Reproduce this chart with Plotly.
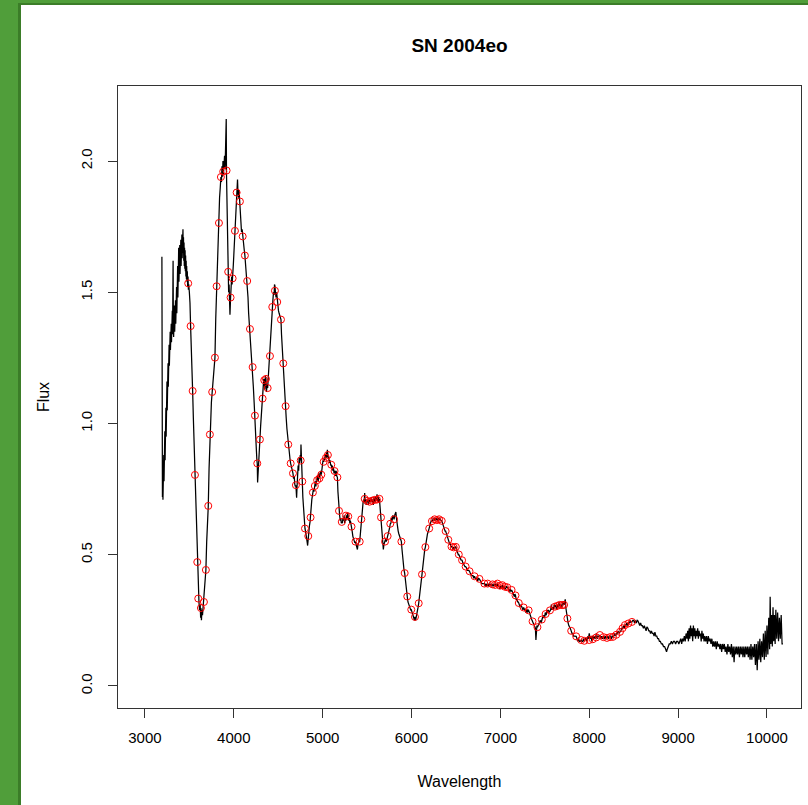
import plotly.graph_objects as go

# ---------------- data ----------------
# noisy ultraviolet rise, (wavelength, flux) pairs
spec_uv = [
(3191,1.635),(3192,0.90),(3194,0.76),(3197,0.72),(3200,0.80),(3203,0.71),(3206,0.84),(3209,0.74),
(3212,0.88),(3215,0.78),(3218,0.93),(3221,0.82),(3224,0.97),(3227,0.86),(3230,1.02),(3233,0.90),
(3236,1.06),(3239,0.95),(3242,1.12),(3245,1.00),(3248,1.16),(3251,1.05),(3254,1.20),(3257,1.10),
(3260,1.23),(3263,1.14),(3266,1.27),(3269,1.19),(3272,1.30),(3275,1.22),(3278,1.32),(3281,1.25),
(3284,1.35),(3287,1.28),(3290,1.37),(3293,1.30),(3296,1.38),(3299,1.31),(3302,1.40),(3305,1.32),
(3308,1.43),(3311,1.34),(3314,1.50),(3317,1.62),(3320,1.38),(3323,1.33),(3326,1.42),(3329,1.34),
(3332,1.45),(3335,1.35),(3338,1.44),(3341,1.36),(3344,1.47),(3347,1.38),(3350,1.48),(3353,1.39),
(3356,1.52),(3359,1.42),(3362,1.55),(3365,1.45),(3368,1.60),(3371,1.48),(3374,1.63),(3377,1.50),
(3380,1.67),(3383,1.54),(3386,1.64),(3389,1.55),(3392,1.68),(3395,1.57),(3398,1.66),(3401,1.58),
(3404,1.70),(3407,1.60),(3410,1.69),(3413,1.62),(3416,1.72),(3419,1.63),(3422,1.70),(3425,1.64),
(3428,1.74),(3431,1.65),(3434,1.71),(3437,1.62),(3440,1.69),(3443,1.60),(3446,1.67),(3449,1.59),
(3452,1.66),(3455,1.58),(3458,1.64),(3461,1.56),(3464,1.62),(3467,1.55),(3470,1.60),(3473,1.54),
(3477,1.58),(3481,1.52),(3485,1.56),(3489,1.51),(3493,1.53),
]

line_wl = [
3500,3507,3514,3522,3530,3537,3545,3552,3563,3570,3578,3589,3595,3600,3608,3615,3622,3627,3630,3636,
3642,3648,3656,3664,3672,3679,3686,3695,3704,3713,3722,3731,3740,3748,3757,3766,3775,3788,3797,3807,
3816,3824,3833,3840,3848,3855,3861,3867,3873,3878,3884,3890,3896,3902,3907,3911,3915,3918,3922,3927,
3933,3937,3942,3947,3952,3957,3964,3970,3976,3981,3987,3994,4000,4006,4013,4019,4025,4032,4037,4042,
4047,4053,4059,4064,4069,4075,4081,4087,4094,4100,4106,4112,4118,4125,4131,4138,4144,4151,4160,4167,
4175,4182,4190,4198,4205,4212,4220,4229,4238,4246,4254,4260,4264,4268,4274,4282,4288,4294,4302,4310,
4317,4324,4331,4337,4343,4349,4355,4362,4368,4374,4381,4388,4394,4400,4407,4414,4420,4427,4433,4440,
4447,4454,4458,4463,4469,4475,4482,4489,4496,4503,4510,4517,4524,4531,4537,4544,4550,4557,4564,4570,
4577,4583,4590,4598,4606,4613,4620,4627,4634,4640,4647,4653,4660,4666,4673,4680,4686,4692,4699,4703,
4707,4712,4718,4724,4730,4736,4742,4748,4753,4756,4760,4766,4771,4777,4783,4789,4795,4801,4807,4813,
4819,4825,4831,4838,4844,4851,4858,4864,4871,4878,4884,4890,4896,4902,4908,4912,4918,4924,4931,4938,
4944,4950,4957,4964,4970,4977,4985,4991,4998,5004,5011,5018,5024,5030,5037,5043,5048,5053,5059,5065,
5072,5078,5084,5090,5097,5103,5109,5115,5122,5128,5134,5140,5146,5152,5159,5166,5172,5178,5184,5191,
5198,5205,5210,5215,5222,5228,5235,5242,5248,5255,5262,5268,5275,5281,5288,5294,5300,5306,5312,5318,
5325,5332,5340,5348,5355,5362,5369,5376,5383,5391,5398,5404,5410,5417,5424,5430,5435,5442,5448,5455,
5461,5467,5473,5478,5484,5490,5496,5502,5508,5514,5521,5528,5535,5542,5549,5556,5563,5570,5577,5584,
5591,5598,5605,5612,5618,5625,5632,5639,5645,5651,5657,5664,5670,5677,5683,5690,5696,5702,5709,5716,
5723,5731,5738,5745,5752,5761,5768,5775,5782,5790,5797,5804,5810,5816,5824,5830,5836,5843,5850,5857,
5864,5871,5878,5886,5893,5900,5908,5916,5923,5930,5937,5944,5952,5960,5968,5976,5984,5991,5997,6004,
6011,6018,6025,6032,6039,6046,6053,6060,6067,6074,6081,6088,6095,6102,6110,6118,6126,6134,6142,6149,
6156,6164,6172,6180,6190,6199,6208,6215,6222,6230,6238,6245,6252,6260,6268,6276,6285,6292,6300,6308,
6316,6324,6332,6340,6348,6356,6364,6372,6378,6384,6392,6400,6407,6414,6422,6430,6437,6443,6450,6458,
6466,6474,6482,6490,6499,6507,6514,6520,6526,6532,6540,6548,6556,6562,6569,6577,6585,6593,6601,6609,
6618,6627,6636,6645,6653,6662,6672,6682,6692,6700,6709,6718,6727,6736,6745,6754,6764,6773,6782,6792,
6801,6810,6820,6829,6838,6847,6857,6866,6875,6884,6893,6902,6912,6921,6930,6940,6949,6958,6967,6976,
6985,6994,7004,7013,7022,7031,7040,7049,7058,7068,7077,7086,7094,7102,7110,7118,7126,7134,7142,7150,
7158,7164,7170,7178,7186,7194,7200,7207,7214,7222,7230,7238,7246,7254,7262,7270,7278,7286,7294,7302,
7310,7318,7326,7334,7342,7350,7356,7362,7370,7378,7386,7394,7400,7405,7411,7417,7425,7433,7441,7450,
7458,7466,7474,7482,7490,7498,7505,7509,7516,7524,7532,7540,7549,7558,7566,7574,7582,7590,7598,7606,
7613,7620,7628,7636,7644,7652,7660,7668,7676,7684,7692,7700,7708,7717,7724,7730,7736,7742,7748,7754,
7762,7770,7778,7786,7797,7806,7815,7824,7833,7843,7853,7862,7871,7880,7890,7899,7909,7918,7927,7936,
7945,7955,7964,7973,7982,7991,8000,8010,8020,8030,8040,8050,8060,8070,8080,8090,8100,8110,8120,8130,
8140,8150,8160,8170,8180,8190,8199,8208,8218,8228,8238,8248,8258,8267,8276,8286,8296,8306,8316,8326,
8336,8346,8356,8366,8376,8386,8394,8402,8412,8422,8432,8442,8452,8462,8472,8481,8490,8500,8510,8520,
8530,8540,8548,8558,8568,8578,8588,8598,8610,8620,8630,8640,8649,8660,8670,8680,8690,8700,8710,8720,
8730,8739,8750,8760,8770,8780,8790,8800,8812,8824,8836,8848,8860,8870,8878,8888,8900,8912,8924,8936,
8948,8960,8972,8984,8996,9008,9020,9030,9040,9050,9060,9070,9080,9090,9100,9108,9116,9124,9132,9140,
9148,9156,9164,9172,9180,9188,9196,9204,9212,9220,9228,9236,9244,9252,9260,9268,9276,9284,9292,9300,
9310,9320,9330,9340,9350,9360,9370,9380,9390,9400,9410,9420,9430,9440,9450,9460,9470,9480,9490,9500,
9510,9520,9530,9540,9550,9560,9570,9580,9590,9600,9610,9620,9630,9640,9650,9660,9670,9680,9690,9700,
9710,9720,9730,9740,9750,9760,9770,9780,9790,9800,9810,9820,9830,9840,9850,9860,9870,9880,9890,9900,
9910,9920,9930,9940,9950,9960,9970,9980,9990,10000,10010,10020,10030,10036,10044,10052,10060,10068,10076,10084,
10092,10100,10110,10120,10130,10140,10150,10160,10170,10180,
]
line_flux = [
1.50,1.46,1.371,1.30,1.22,1.124,1.02,0.94,0.804,0.70,0.58,0.472,0.40,0.333,0.32,0.29,0.31,0.26,0.297,0.25,
0.29,0.27,0.31,0.32,0.36,0.40,0.442,0.55,0.62,0.686,0.83,0.958,1.05,1.08,1.12,1.17,1.22,1.251,1.40,1.523,
1.65,1.70,1.764,1.86,1.90,1.939,1.92,1.98,1.94,2.00,1.95,1.99,2.02,1.97,2.07,2.05,2.16,1.95,1.85,1.72,
1.62,1.578,1.50,1.53,1.46,1.414,1.48,1.52,1.56,1.53,1.553,1.60,1.64,1.69,1.734,1.78,1.84,1.88,1.91,1.93,
1.88,1.86,1.89,1.85,1.846,1.80,1.76,1.73,1.74,1.713,1.69,1.67,1.66,1.64,1.61,1.59,1.57,1.543,1.48,1.42,
1.38,1.36,1.31,1.27,1.23,1.215,1.14,1.08,1.03,0.96,0.90,0.86,0.848,0.775,0.83,0.90,0.93,0.939,0.99,1.04,
1.07,1.095,1.13,1.17,1.165,1.13,1.18,1.17,1.12,1.15,1.135,1.18,1.21,1.24,1.257,1.32,1.38,1.42,1.444,1.47,
1.50,1.49,1.53,1.524,1.50,1.48,1.50,1.463,1.44,1.43,1.42,1.41,1.40,1.396,1.34,1.29,1.26,1.229,1.18,1.12,
1.09,1.066,1.02,0.98,0.95,0.92,0.89,0.87,0.86,0.848,0.84,0.83,0.82,0.81,0.79,0.80,0.77,0.76,0.765,0.74,
0.717,0.76,0.80,0.84,0.82,0.87,0.85,0.88,0.859,0.92,0.84,0.81,0.779,0.72,0.68,0.65,0.62,0.600,0.59,0.58,
0.57,0.55,0.535,0.571,0.59,0.61,0.625,0.642,0.68,0.71,0.72,0.737,0.75,0.74,0.77,0.762,0.78,0.76,0.79,0.784,
0.80,0.78,0.81,0.791,0.80,0.82,0.805,0.83,0.84,0.86,0.854,0.87,0.86,0.88,0.869,0.89,0.87,0.90,0.880,0.87,
0.86,0.85,0.86,0.84,0.843,0.83,0.84,0.82,0.83,0.81,0.819,0.82,0.80,0.82,0.80,0.795,0.74,0.70,0.667,0.65,
0.63,0.64,0.62,0.625,0.62,0.64,0.63,0.65,0.62,0.64,0.63,0.65,0.64,0.66,0.646,0.63,0.64,0.62,0.63,0.61,
0.607,0.59,0.57,0.56,0.55,0.545,0.550,0.54,0.53,0.52,0.54,0.55,0.55,0.550,0.58,0.61,0.635,0.66,0.68,0.70,
0.71,0.70,0.735,0.70,0.71,0.69,0.71,0.70,0.71,0.69,0.71,0.702,0.71,0.70,0.72,0.70,0.71,0.69,0.72,0.709,
0.70,0.72,0.71,0.73,0.70,0.72,0.70,0.713,0.69,0.66,0.642,0.61,0.58,0.55,0.52,0.54,0.55,0.550,0.56,0.55,
0.57,0.571,0.58,0.60,0.60,0.618,0.62,0.64,0.63,0.65,0.64,0.635,0.65,0.66,0.663,0.64,0.62,0.60,0.59,0.58,
0.57,0.56,0.555,0.550,0.52,0.49,0.46,0.44,0.430,0.40,0.38,0.36,0.341,0.32,0.31,0.30,0.29,0.29,0.291,0.28,
0.27,0.27,0.26,0.25,0.263,0.25,0.26,0.27,0.28,0.30,0.315,0.34,0.37,0.39,0.40,0.425,0.45,0.48,0.50,0.52,
0.529,0.55,0.57,0.58,0.59,0.600,0.61,0.62,0.63,0.628,0.63,0.64,0.63,0.64,0.63,0.64,0.632,0.63,0.64,0.63,
0.64,0.63,0.63,0.629,0.62,0.61,0.60,0.60,0.59,0.590,0.58,0.57,0.56,0.557,0.55,0.54,0.54,0.53,0.531,0.53,
0.52,0.53,0.52,0.53,0.530,0.52,0.51,0.51,0.50,0.501,0.49,0.49,0.48,0.48,0.479,0.47,0.46,0.46,0.455,0.455,
0.45,0.44,0.44,0.44,0.437,0.43,0.42,0.42,0.42,0.41,0.418,0.41,0.41,0.41,0.40,0.41,0.408,0.40,0.40,0.39,
0.39,0.39,0.390,0.38,0.39,0.38,0.390,0.38,0.39,0.38,0.39,0.38,0.387,0.38,0.39,0.38,0.39,0.38,0.390,0.38,
0.38,0.37,0.38,0.37,0.384,0.37,0.38,0.37,0.37,0.38,0.376,0.37,0.37,0.36,0.37,0.36,0.366,0.36,0.35,0.35,
0.34,0.35,0.345,0.33,0.33,0.32,0.32,0.316,0.31,0.30,0.31,0.30,0.30,0.29,0.299,0.29,0.29,0.28,0.29,0.28,
0.29,0.288,0.28,0.27,0.26,0.25,0.25,0.246,0.24,0.23,0.23,0.22,0.175,0.22,0.23,0.224,0.23,0.24,0.24,0.25,
0.24,0.253,0.26,0.26,0.27,0.26,0.28,0.274,0.27,0.29,0.28,0.29,0.28,0.288,0.29,0.31,0.29,0.30,0.29,0.31,
0.302,0.30,0.31,0.29,0.31,0.30,0.32,0.309,0.30,0.31,0.30,0.32,0.31,0.309,0.32,0.33,0.30,0.28,0.27,0.257,
0.24,0.23,0.22,0.22,0.210,0.20,0.20,0.19,0.19,0.19,0.189,0.18,0.17,0.18,0.17,0.17,0.175,0.17,0.17,0.18,
0.17,0.18,0.18,0.17,0.189,0.18,0.20,0.18,0.19,0.17,0.19,0.18,0.19,0.18,0.20,0.18,0.19,0.19,0.194,0.18,
0.19,0.18,0.19,0.18,0.19,0.18,0.183,0.19,0.18,0.19,0.19,0.18,0.19,0.187,0.19,0.20,0.19,0.20,0.20,0.21,
0.20,0.206,0.21,0.22,0.22,0.23,0.22,0.232,0.23,0.24,0.23,0.24,0.24,0.25,0.24,0.244,0.25,0.25,0.24,0.25,
0.24,0.25,0.248,0.24,0.23,0.24,0.23,0.23,0.22,0.23,0.22,0.21,0.225,0.22,0.21,0.21,0.20,0.21,0.20,0.20,
0.19,0.205,0.19,0.19,0.18,0.18,0.17,0.17,0.16,0.16,0.15,0.15,0.14,0.13,0.14,0.15,0.16,0.16,0.17,0.16,
0.17,0.17,0.16,0.17,0.17,0.16,0.17,0.18,0.16,0.18,0.17,0.19,0.17,0.20,0.18,0.21,0.17,0.22,0.18,0.23,
0.19,0.22,0.17,0.23,0.19,0.22,0.18,0.21,0.19,0.22,0.18,0.21,0.19,0.20,0.17,0.21,0.18,0.20,0.17,0.19,
0.17,0.19,0.16,0.19,0.17,0.18,0.16,0.18,0.15,0.17,0.15,0.17,0.14,0.17,0.15,0.16,0.14,0.16,0.13,0.16,
0.14,0.16,0.13,0.15,0.12,0.16,0.13,0.15,0.12,0.16,0.11,0.15,0.09,0.15,0.12,0.15,0.12,0.15,0.11,0.15,
0.12,0.15,0.11,0.15,0.11,0.15,0.12,0.15,0.11,0.15,0.10,0.16,0.10,0.15,0.11,0.16,0.08,0.16,0.06,0.17,
0.10,0.18,0.09,0.17,0.11,0.20,0.10,0.21,0.11,0.23,0.12,0.26,0.14,0.34,0.16,0.27,0.15,0.30,0.17,0.27,
0.16,0.29,0.18,0.28,0.17,0.26,0.18,0.27,0.16,0.16,
]

circle_wl = [
3487,3514,3537,3563,3589,3600,3630,3664,3686,3713,3731,3757,3788,3807,3833,3855,3881,3919,3937,3964,
3987,4013,4032,4069,4100,4125,4151,4182,4212,4238,4264,4294,4324,4343,4362,4381,4407,4433,4463,4489,
4531,4557,4583,4613,4640,4666,4699,4753,4771,4801,4838,4864,4890,4912,4938,4964,4985,5011,5037,5059,
5097,5134,5166,5184,5215,5262,5288,5325,5369,5417,5435,5473,5500,5528,5556,5584,5610,5639,5657,5702,
5731,5761,5804,5886,5923,5952,5997,6039,6081,6118,6156,6199,6230,6260,6285,6310,6340,6384,6414,6450,
6475,6499,6532,6569,6609,6653,6709,6764,6820,6857,6912,6940,6967,6995,7022,7050,7077,7126,7170,7207,
7262,7318,7362,7417,7466,7509,7558,7613,7640,7668,7695,7717,7754,7797,7853,7909,7945,8000,8040,8080,
8120,8160,8199,8235,8267,8305,8346,8375,8402,8440,8481,
]
circle_flux = [
1.534,1.371,1.124,0.804,0.472,0.333,0.297,0.320,0.442,0.686,0.958,1.120,1.251,1.523,1.764,1.939,1.960,1.964,1.578,1.480,
1.553,1.734,1.880,1.846,1.713,1.640,1.543,1.360,1.215,1.030,0.848,0.939,1.095,1.165,1.170,1.135,1.257,1.444,1.506,1.463,
1.396,1.229,1.066,0.920,0.848,0.810,0.765,0.859,0.779,0.600,0.571,0.642,0.737,0.762,0.784,0.791,0.805,0.854,0.869,0.880,
0.843,0.819,0.795,0.667,0.625,0.649,0.646,0.607,0.550,0.550,0.635,0.713,0.705,0.702,0.706,0.709,0.710,0.713,0.642,0.550,
0.571,0.618,0.635,0.550,0.430,0.341,0.291,0.263,0.315,0.425,0.529,0.600,0.628,0.635,0.632,0.635,0.629,0.590,0.557,0.531,
0.528,0.530,0.501,0.479,0.455,0.437,0.418,0.408,0.390,0.390,0.387,0.385,0.390,0.382,0.384,0.378,0.376,0.366,0.345,0.316,
0.299,0.288,0.246,0.224,0.253,0.274,0.288,0.302,0.305,0.309,0.308,0.309,0.257,0.210,0.189,0.175,0.172,0.175,0.178,0.185,
0.194,0.186,0.183,0.186,0.187,0.195,0.206,0.220,0.232,0.238,0.244,
]

x_ticks = [3000, 4000, 5000, 6000, 7000, 8000, 9000, 10000]
y_ticks = [0.0, 0.5, 1.0, 1.5, 2.0]
y_tick_text = ["0.0", "0.5", "1.0", "1.5", "2.0"]

assert len(line_wl) == len(line_flux)
assert len(circle_wl) == len(circle_flux)
spec_wl = [p[0] for p in spec_uv] + line_wl
spec_flux = [p[1] for p in spec_uv] + line_flux

# ---------------- layout geometry (pixels) ----------------
W, H = 808, 805
L, R, T, B = 118, 7, 86, 97
PW, PH = W - L - R, H - T - B

def px_x(p):
    return (p - L) / PW

def px_y(p):
    return (H - B - p) / PH

FONT = "Liberation Sans, Arial, Helvetica, sans-serif"

fig = go.Figure()
fig.add_trace(go.Scatter(x=spec_wl, y=spec_flux, mode="lines",
                         line=dict(color="black", width=1.25), hoverinfo="skip"))
fig.add_trace(go.Scatter(x=circle_wl, y=circle_flux, mode="markers",
                         marker=dict(symbol="circle-open", size=7, color="#ff0000",
                                     line=dict(width=1, color="#ff0000")),
                         hoverinfo="skip"))

light_g, dark_g = "#509e3a", "#3b7d28"
shapes = [
    dict(type="rect", xref="paper", yref="paper", x0=px_x(0), x1=px_x(19), y0=px_y(H), y1=px_y(0),
         fillcolor=light_g, line=dict(width=0), layer="above"),
    dict(type="rect", xref="paper", yref="paper", x0=px_x(0), x1=px_x(W), y0=px_y(3), y1=px_y(0),
         fillcolor=light_g, line=dict(width=0), layer="above"),
    dict(type="rect", xref="paper", yref="paper", x0=px_x(18), x1=px_x(21), y0=px_y(H), y1=px_y(3),
         fillcolor=dark_g, line=dict(width=0), layer="above"),
    dict(type="rect", xref="paper", yref="paper", x0=px_x(18), x1=px_x(W), y0=px_y(5), y1=px_y(3),
         fillcolor=dark_g, line=dict(width=0), layer="above"),
]

axis_common = dict(showgrid=False, zeroline=False, showline=True, mirror=True,
                   linecolor="#333333", linewidth=1, ticks="outside", ticklen=9,
                   tickcolor="#333333", tickwidth=1,
                   tickfont=dict(family=FONT, size=15, color="black"))

fig.update_layout(
    width=W, height=H,
    margin=dict(l=L, r=R, t=T, b=B, autoexpand=False),
    paper_bgcolor="white", plot_bgcolor="white",
    showlegend=False,
    shapes=shapes,
    title=dict(text="<b>SN 2004eo</b>", x=px_x(459.5), xref="paper", xanchor="center",
               y=1 - 45 / H, yref="container", yanchor="middle",
               font=dict(family=FONT, size=19, color="black")),
    xaxis=dict(range=[2697, 10383], tickvals=x_ticks, ticktext=[str(v) for v in x_ticks],
               ticklabelstandoff=7,
               title=dict(text="Wavelength", standoff=30, font=dict(family=FONT, size=16, color="black")),
               **axis_common),
    yaxis=dict(range=[-0.084, 2.286], tickvals=y_ticks, ticktext=y_tick_text, tickangle=-90,
               ticklabelstandoff=10,
               title=dict(text="Flux", standoff=24, font=dict(family=FONT, size=16, color="black")),
               **axis_common),
)

fig.write_html("out.html", config={"displayModeBar": False})
